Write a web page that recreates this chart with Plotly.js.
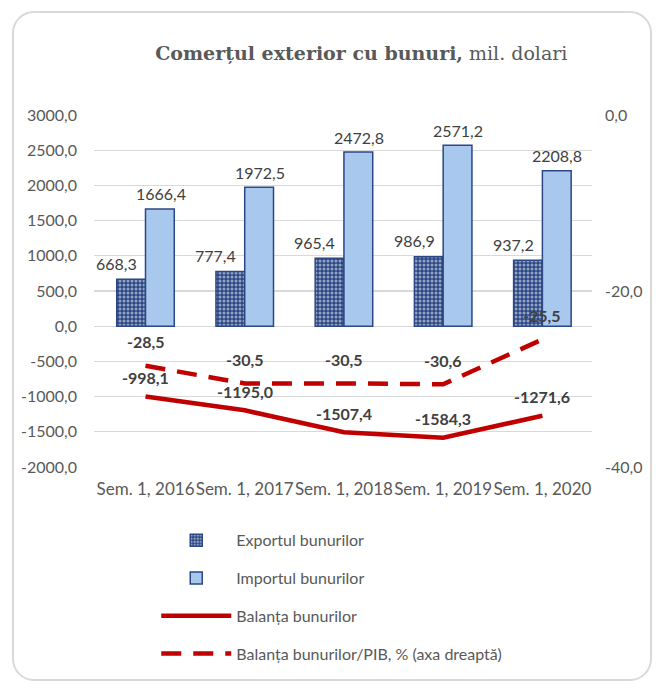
<!DOCTYPE html>
<html>
<head>
<meta charset="utf-8">
<script src="https://cdn.plot.ly/plotly-3.0.1.min.js"></script>
<style>
  html, body { margin: 0; padding: 0; background: #ffffff; }
  #wrap { position: relative; width: 663px; height: 688px; }
  #chart { position: absolute; left: 0; top: 0; width: 663px; height: 688px; }
  #frame { position: absolute; left: 12px; top: 11px; width: 636px; height: 666px;
           border: 2px solid #d9d9d9; border-radius: 22px; pointer-events: none; }
</style>
</head>
<body>
<div id="wrap">
  <div id="chart"></div>
  <div id="frame"></div>
</div>
<script>
// ---- data ----
const categories = ["Sem. 1, 2016", "Sem. 1, 2017", "Sem. 1, 2018", "Sem. 1, 2019", "Sem. 1, 2020"];
const exportValues = [668.3, 777.4, 965.4, 986.9, 937.2];
const importValues = [1666.4, 1972.5, 2472.8, 2571.2, 2208.8];
const balanceValues = [-998.1, -1195.0, -1507.4, -1584.3, -1271.6];
const balanceGdpValues = [-28.5, -30.5, -30.5, -30.6, -25.5];
const seriesNames = ["Exportul bunurilor", "Importul bunurilor", "Balanța bunurilor", "Balanța bunurilor/PIB, % (axa dreaptă)"];
const leftTicks = [3000, 2500, 2000, 1500, 1000, 500, 0, -500, -1000, -1500, -2000];
const rightTicks = [0, -20, -40];

const fmt = v => v.toFixed(1).replace('.', ',');
const FONT = 'Lato, "Open Sans", sans-serif';
const GREY = '#595959';
const LABEL = '#404040';
const NAVY = '#2B4785';
const RED = '#C00000';

const traces = [
  {
    type: 'bar', name: seriesNames[0], x: categories, y: exportValues,
    marker: {
      color: NAVY,
      line: { color: NAVY, width: 1.5 },
      pattern: { shape: '.', fgcolor: '#ffffff', bgcolor: NAVY, size: 4, solidity: 0.45, fillmode: 'overlay' }
    },
    legendgroup: 'a', hoverinfo: 'y'
  },
  {
    type: 'bar', name: seriesNames[1], x: categories, y: importValues,
    marker: { color: '#A9C8EE', line: { color: NAVY, width: 1.5 } },
    legendgroup: 'b', hoverinfo: 'y'
  },
  {
    type: 'scatter', mode: 'lines', name: seriesNames[2], x: categories, y: balanceValues,
    line: { color: RED, width: 4.5 },
    legendgroup: 'c', hoverinfo: 'y'
  },
  {
    type: 'scatter', mode: 'lines', name: seriesNames[3], x: categories, y: balanceGdpValues,
    yaxis: 'y2',
    line: { color: RED, width: 4.5, dash: '20px,12px' },
    legendgroup: 'd', hoverinfo: 'y'
  }
];

const annotations = [];
categories.forEach((c, i) => {
  annotations.push({ x: c, y: exportValues[i], xref: 'x', yref: 'y', text: fmt(exportValues[i]),
    showarrow: false, xshift: -29, yshift: 16, font: { family: FONT, size: 16, color: LABEL } });
  annotations.push({ x: c, y: importValues[i], xref: 'x', yref: 'y', text: fmt(importValues[i]),
    showarrow: false, xshift: 15, yshift: 15, font: { family: FONT, size: 16, color: LABEL } });
  annotations.push({ x: c, y: balanceValues[i], xref: 'x', yref: 'y', text: '<b>' + fmt(balanceValues[i]) + '</b>',
    showarrow: false, yshift: 19, font: { family: FONT, size: 16, color: LABEL } });
  annotations.push({ x: c, y: balanceGdpValues[i], xref: 'x', yref: 'y2', text: '<b>' + fmt(balanceGdpValues[i]) + '</b>',
    showarrow: false, yshift: 24, font: { family: FONT, size: 16, color: LABEL } });
});

const layout = {
  width: 663, height: 688,
  margin: { l: 94, r: 71, t: 115, b: 221 },
  paper_bgcolor: '#ffffff', plot_bgcolor: '#ffffff',
  separators: ',.',
  font: { family: FONT, size: 16, color: GREY },
  title: {
    text: '<b>Comerțul exterior cu bunuri,</b> mil. dolari',
    font: { family: '"DejaVu Serif", "Liberation Serif", serif', size: 19, color: GREY },
    x: 0.545, xanchor: 'center', y: 0.922, yanchor: 'middle'
  },
  barmode: 'group', bargap: 0.42, bargroupgap: 0,
  xaxis: {
    type: 'category', showgrid: false, zeroline: false, showline: false, ticks: '',
    ticklabelstandoff: 10, tickangle: 0,
    tickfont: { family: FONT, size: 17, color: GREY }
  },
  yaxis: {
    range: [-2000, 3000], tickvals: leftTicks, ticktext: leftTicks.map(fmt),
    showgrid: true, gridcolor: '#d9d9d9', gridwidth: 1.3, zeroline: false, showline: false,
    ticks: '', ticklen: 0, ticklabelstandoff: 16, tickfont: { family: FONT, size: 16, color: GREY }
  },
  yaxis2: {
    overlaying: 'y', side: 'right', range: [-40, 0], tickvals: rightTicks, ticktext: rightTicks.map(fmt),
    showgrid: false, zeroline: false, showline: false, ticks: '', ticklabelstandoff: 12,
    tickfont: { family: FONT, size: 16, color: GREY }
  },
  showlegend: true,
  legend: {
    orientation: 'v', x: 0.125, xanchor: 'left', y: -0.16, yanchor: 'top',
    font: { family: FONT, size: 16, color: GREY },
    itemwidth: 70, tracegroupgap: 14, traceorder: 'grouped',
    bgcolor: 'rgba(0,0,0,0)'
  },
  annotations: annotations
};

Plotly.newPlot('chart', traces, layout, { displayModeBar: false, staticPlot: true });
</script>
</body>
</html>
